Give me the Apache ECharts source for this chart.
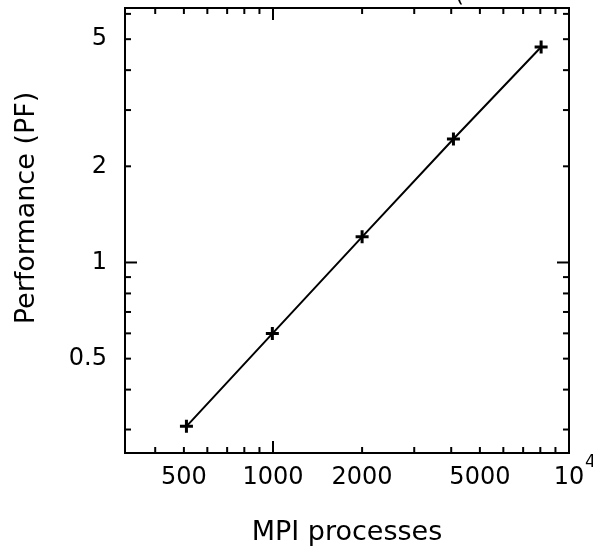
<!DOCTYPE html>
<html>
<head>
<meta charset="utf-8">
<script src="https://cdn.jsdelivr.net/npm/echarts@6/dist/echarts.min.js"></script>
<style>html,body{margin:0;padding:0;background:#fff}#c{width:593px;height:548px}</style>
</head>
<body>
<div id="c"></div>
<script>
const X_MIN = 316.23, X_MAX = 10000, Y_MIN = 0.2533, Y_MAX = 6.26;
const processes = [510, 995, 2000, 4070, 8050];
const performance = [0.307, 0.599, 1.203, 2.436, 4.724];
const xMajorTicks = [1000, 10000];
const xMinorTicks = [400, 500, 600, 700, 800, 900, 2000, 3000, 4000, 5000, 6000, 7000, 8000, 9000];
const yMajorTicks = [1];
const yMinorTicks = [0.3, 0.4, 0.5, 0.6, 0.7, 0.8, 0.9, 2, 3, 4, 5, 6];
const xTickLabelValues = [500, 1000, 2000, 5000, 10000];
const xTickLabels = ['500', '1000', '2000', '5000', '10'];
const xTickLabelSup = ['', '', '', '', '4'];
const yTickLabelValues = [0.5, 1, 2, 5];
const yTickLabels = ['0.5', '1', '2', '5'];

const FONT = '"DejaVu Sans", "Liberation Sans", sans-serif';
const chart = echarts.init(document.getElementById('c'), null, {renderer: 'canvas'});

function tickLine(x1, y1, x2, y2) {
  return {type: 'line', shape: {x1, y1, x2, y2}, style: {stroke: '#000', lineWidth: 2}};
}

const xTickData = xMajorTicks.map(v => [v, Y_MIN, 12]).concat(xMinorTicks.map(v => [v, Y_MIN, 6]));
const yTickData = yMajorTicks.map(v => [X_MIN, v, 12]).concat(yMinorTicks.map(v => [X_MIN, v, 6]));
const xLabelData = xTickLabelValues.map((v, i) => [v, Y_MIN, i]);
const yLabelData = yTickLabelValues.map((v, i) => [X_MIN, v, i]);

chart.setOption({
  animation: false,
  backgroundColor: '#fff',
  grid: {left: 125, right: 24, top: 8, bottom: 95, show: true, borderColor: '#000', borderWidth: 2, backgroundColor: 'transparent'},
  xAxis: {type: 'log', logBase: 10, min: X_MIN, max: X_MAX,
    axisLine: {show: false}, axisTick: {show: false}, axisLabel: {show: false}, splitLine: {show: false}},
  yAxis: {type: 'log', logBase: 10, min: Y_MIN, max: Y_MAX,
    axisLine: {show: false}, axisTick: {show: false}, axisLabel: {show: false}, splitLine: {show: false}},
  graphic: [
    {type: 'text', x: 27, y: 208, rotation: Math.PI / 2,
      style: {text: 'Performance (PF)', font: '27px ' + FONT, textAlign: 'center', textVerticalAlign: 'middle', fill: '#000'}},
    {type: 'text', x: 347, y: 533,
      style: {text: 'MPI processes', font: '27px ' + FONT, textAlign: 'center', textVerticalAlign: 'middle', fill: '#000'}},
    {type: 'text', x: 455, y: 8,
      style: {text: '(', font: '23px ' + FONT, textAlign: 'left', textVerticalAlign: 'bottom', fill: '#000'}}
  ],
  series: [
    {type: 'custom', coordinateSystem: 'cartesian2d', clip: false, silent: true,
      encode: {x: 0, y: 1}, data: xTickData,
      renderItem: function (params, api) {
        const v = api.value(0), len = api.value(2);
        const b = api.coord([v, Y_MIN]), t = api.coord([v, Y_MAX]);
        return {type: 'group', children: [
          tickLine(b[0], b[1], b[0], b[1] - len),
          tickLine(t[0], t[1], t[0], t[1] + len)
        ]};
      }},
    {type: 'custom', coordinateSystem: 'cartesian2d', clip: false, silent: true,
      encode: {x: 0, y: 1}, data: yTickData,
      renderItem: function (params, api) {
        const v = api.value(1), len = api.value(2);
        const l = api.coord([X_MIN, v]), r = api.coord([X_MAX, v]);
        return {type: 'group', children: [
          tickLine(l[0], l[1], l[0] + len, l[1]),
          tickLine(r[0], r[1], r[0] - len, r[1])
        ]};
      }},
    {type: 'custom', coordinateSystem: 'cartesian2d', clip: false, silent: true,
      encode: {x: 0, y: 1}, data: xLabelData,
      renderItem: function (params, api) {
        const v = api.value(0), i = api.value(2);
        const p = api.coord([v, Y_MIN]);
        const children = [{type: 'text', x: p[0], y: p[1] + 25,
          style: {text: xTickLabels[i], font: '24px ' + FONT, textAlign: 'center', textVerticalAlign: 'middle', fill: '#000'}}];
        if (xTickLabelSup[i]) {
          children.push({type: 'text', x: p[0] + 16, y: p[1] + 10,
            style: {text: xTickLabelSup[i], font: '17px ' + FONT, textAlign: 'left', textVerticalAlign: 'middle', fill: '#000'}});
        }
        return {type: 'group', children};
      }},
    {type: 'custom', coordinateSystem: 'cartesian2d', clip: false, silent: true,
      encode: {x: 0, y: 1}, data: yLabelData,
      renderItem: function (params, api) {
        const v = api.value(1), i = api.value(2);
        const p = api.coord([X_MIN, v]);
        return {type: 'text', x: p[0] - 18, y: p[1],
          style: {text: yTickLabels[i], font: '24px ' + FONT, textAlign: 'right', textVerticalAlign: 'middle', fill: '#000'}};
      }},
    {type: 'line', data: processes.map((x, i) => [x, performance[i]]),
      symbol: 'path://M5,0h3v5h5v3h-5v5h-3v-5h-5v-3h5z', symbolSize: 13,
      itemStyle: {color: '#000'}, lineStyle: {color: '#000', width: 2}, silent: true, z: 5}
  ]
});
</script>
</body>
</html>
